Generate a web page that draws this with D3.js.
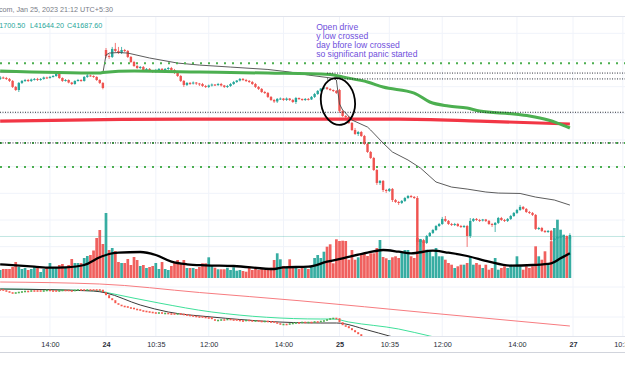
<!DOCTYPE html>
<html lang="en">
<head>
<meta charset="UTF-8">
<title>Bank Nifty 5m - Jan 23-25, 2023</title>
<script src="https://cdn.jsdelivr.net/npm/d3@7"></script>
<style>
  body { margin: 0; background: #fff; }
  svg { display: block; font-family: "Liberation Sans", Arial, sans-serif; }
</style>
</head>
<body>
<svg id="chart" width="625" height="375"></svg>
<script>
// 5 minute candles [open, high, low, close], candle index 41 = Jan 23 12:40
const day23 = [
  [42858,42880,42850,42869],[42869,42876,42858,42865],[42865,42873,42850,42858],[42858,42865,42835,42843],
  [42843,42850,42790,42798],[42798,42805,42768,42775],[42775,42835,42760,42828],[42828,42850,42820,42843],
  [42843,42858,42835,42850],[42850,42858,42835,42843],[42843,42861,42835,42854],[42854,42865,42846,42858],
  [42858,42866,42843,42850],[42850,42865,42844,42858],[42858,42876,42852,42869],[42869,42875,42858,42865],
  [42865,42880,42860,42873],[42873,42888,42868,42880],[42880,42910,42874,42895],[42895,42900,42858,42865],
  [42865,42870,42836,42843],[42843,42857,42838,42850],[42850,42855,42825,42831],[42831,42836,42812,42820],
  [42820,42848,42814,42843],[42843,42858,42838,42850],[42850,42856,42836,42843],[42843,42880,42838,42873],
  [42873,42903,42866,42884],[42884,42890,42874,42880],[42880,42885,42866,42873],[42873,42878,42843,42850],
  [42850,42856,42820,42828],[42828,42834,42780,42790]
];
const day24 = [
  [43075,43090,43015,43030],[43030,43045,43008,43023],[43023,43098,43015,43083],[43083,43128,43060,43068],
  [43068,43098,43045,43053],[43053,43098,43045,43075],[43075,43083,43060,43068],[43068,43075,43015,43023],
  [43023,43030,42978,42985],[42985,42993,42948,42955],[42955,42963,42933,42940],[42940,42955,42933,42948],
  [42948,42955,42918,42925],[42925,42940,42918,42933],[42933,42940,42910,42918],[42918,42925,42903,42910],
  [42910,42933,42903,42925],[42925,42940,42918,42933],[42933,42940,42910,42918],[42918,42940,42910,42933],
  [42933,42948,42925,42940],[42940,42948,42918,42925],[42925,42933,42895,42903],[42903,42910,42873,42880],
  [42880,42888,42835,42843],[42843,42850,42798,42813],[42813,42835,42805,42828],[42828,42835,42813,42824],
  [42824,42839,42816,42831],[42831,42835,42813,42824],[42824,42828,42805,42820],[42820,42828,42798,42805],
  [42805,42813,42790,42798],[42798,42816,42790,42809],[42809,42824,42801,42816],[42816,42820,42805,42813],
  [42813,42828,42805,42820],[42820,42828,42801,42809],[42809,42813,42790,42798],[42798,42813,42790,42805],
  [42805,42828,42798,42820],[42820,42843,42813,42835],[42835,42850,42828,42846],[42846,42865,42839,42858],
  [42858,42865,42843,42850],[42850,42858,42835,42843],[42843,42850,42828,42835],[42835,42843,42813,42820],
  [42820,42828,42790,42798],[42798,42805,42775,42783],[42783,42790,42753,42760],[42760,42768,42745,42753],
  [42753,42760,42715,42723],[42723,42730,42693,42700],[42700,42708,42678,42689],[42689,42715,42678,42708],
  [42708,42719,42700,42711],[42711,42715,42693,42700],[42700,42719,42693,42711],[42711,42715,42693,42700],
  [42700,42708,42678,42685],[42685,42723,42670,42715],[42715,42719,42700,42708],[42708,42711,42693,42700],
  [42700,42715,42693,42708],[42708,42715,42696,42704],[42704,42730,42700,42723],[42723,42753,42715,42745],
  [42745,42775,42738,42768],[42768,42790,42760,42786],[42786,42801,42779,42794],[42794,42798,42775,42783],
  [42783,42790,42768,42775],[42775,42779,42760,42768],[42768,42775,42745,42753]
];
const day25 = [
  [42775,42783,42603,42618],[42618,42625,42573,42580],[42580,42588,42565,42573],[42573,42580,42520,42528],
  [42528,42535,42468,42475],[42475,42490,42438,42445],[42445,42468,42430,42460],[42460,42468,42423,42430],
  [42430,42438,42363,42370],[42370,42378,42303,42310],[42310,42318,42258,42265],[42265,42273,42168,42175],
  [42175,42183,42063,42078],[42078,42100,42063,42093],[42093,42100,42010,42025],[42025,42033,42003,42018],
  [42018,42040,42010,42033],[42033,42040,41935,41950],[41950,41958,41928,41935],[41935,41943,41913,41928],
  [41928,41950,41920,41943],[41943,41973,41935,41965],[41965,41988,41958,41980],[41980,41988,41965,41973],
  [41973,41980,41958,41965],[41965,41980,41613,41635],[41635,41658,41598,41650],[41650,41658,41598,41628],
  [41628,41688,41620,41680],[41680,41710,41673,41703],[41703,41733,41695,41725],[41725,41763,41718,41755],
  [41755,41778,41748,41770],[41770,41823,41763,41808],[41808,41830,41785,41793],[41793,41800,41763,41770],
  [41770,41778,41755,41763],[41763,41778,41755,41770],[41770,41778,41748,41755],[41755,41763,41740,41748],
  [41748,41763,41740,41755],[41755,41763,41598,41680],[41680,41815,41665,41793],[41793,41815,41785,41808],
  [41808,41815,41793,41800],[41800,41808,41785,41796],[41796,41808,41789,41804],[41804,41808,41785,41793],
  [41793,41800,41763,41770],[41770,41778,41748,41763],[41763,41785,41710,41778],[41778,41823,41770,41815],
  [41815,41823,41793,41800],[41800,41808,41785,41793],[41793,41815,41785,41808],[41808,41838,41800,41830],
  [41830,41860,41823,41853],[41853,41883,41845,41875],[41875,41913,41868,41898],[41898,41905,41875,41883],
  [41883,41890,41853,41860],[41860,41868,41845,41853],[41853,41860,41830,41838],[41838,41845,41725,41733],
  [41733,41748,41725,41740],[41740,41748,41710,41718],[41718,41725,41703,41710],[41710,41725,41703,41718],
  [41718,41725,41635,41650],[41650,41669,41643,41661],[41661,41680,41654,41673],[41673,41684,41665,41676],
  [41676,41688,41669,41680],[41680,41684,41654,41660],[41660,41700.5,41644.2,41687.6]
];
const vol23 = [160,180,180,180,220,320,220,180,200,160,180,220,200,120,180,200,300,200,220,260,
  280,220,260,380,300,300,300,400,440,460,550,800,960,680];
const vol24 = [1300,560,600,540,320,300,300,380,260,420, 360,240,260,200,220,240,300,180,320,180,
  160,240,320,360,280,360,200,200,200,180, 220,294,294,414,260,206,174,174,174,206,
  160,214,146,160,140,126,226,160,206,160, 174,160,174,206,360,494,374,240,206,374,
  234,206,180,206,200,180,234,400,460,400, 526,626,674,294,774];
const vol25 = [740,746,740,366,560,366,414,460,494,440, 494,494,600,760,420,394,360,414,434,400,
  520,560,560,434,400,800,780,734,566,534, 434,600,434,434,366,300,266,200,234,266,
  266,300,434,266,300,266,200,266,166,200, 400,166,200,234,200,266,234,434,234,166,
  234,200,234,634,434,366,534,300,734,1000, 1166,966,866,800,820];

// indicator readings [candle index, value]
const vwapPts = [[41,42910],[74,42902],[75,43037],[76,43052],[79,43056],[82,43052],[89,43015],[98,42977],
  [105,42962],[115,42947],[127,42929],[134,42910],[140,42887],[148,42863],[149,42850],[150,42670],
  [151,42625],[152,42602],[154,42550],[159,42497],[160,42475],[164,42377],[167,42310],[172,42250],
  [176,42190],[181,42085],[186,42047],[191,42032],[197,42010],[201,42002],[208,41999],[213,41972],
  [219,41950],[224,41912]];
const emaGreenPts = [[41,42917],[73,42902],[74,42906],[84,42917],[105,42910],[127,42902],[147,42891],
  [151,42872],[159,42835],[164,42797],[174,42752],[179,42685],[185,42655],[191,42640],[195,42617],
  [206,42595],[211,42580],[217,42550],[220,42527],[224,42490]];
const emaRedPts = [[41,42542],[80,42554],[137,42557],[169,42557],[195,42542],[224,42520]];
const volMaPts = [[41,274],[52,226],[57,206],[62,214],[68,260],[73,414],[76,480],[79,506],[86,520],
  [91,460],[96,326],[101,274],[107,254],[116,240],[129,180],[132,214],[140,226],[146,326],[151,394],
  [159,506],[164,560],[169,526],[173,494],[180,546],[185,506],[191,440],[198,326],[205,246],[212,260],
  [218,294],[221,394],[224,494]];

// horizontal levels
const greenLevels = [42975, 42378, 42198];
const blackLevels = [42608, 42378];
const recentLevels = [42902, 42858];

// lower pane
const lowRed = [[41,540],[73,520],[105,435],[137,353],[179,230],[224,100]];
const lowGreen = [[41,470],[73,450],[76,430],[92,330],[109,240],[144,170],[148,170],[153,140],[169,70],[179,0],[185,-40]];
const lowBlack = [[41,470],[71,450],[75,430],[86,310],[95,240],[109,190],[144,130],[149,130],[159,60],[166,0],[171,-40]];
const mini23 = [460,450,440,430,425,430,435,440,445,445,450,450,450,445,450,455,450,450,445,450,
  455,455,450,450,455,460,460,455,460,460,460,460,455,430];
const mini24 = [400,370,350,320,305,295,290,280,275,265,260,250,245,240,235,230,225,230,220,225,
  220,220,215,220,215,210,205,200,195,190,190,185,180,180,160,145,155,160,160,165,
  160,160,155,150,150,155,150,145,150,145,140,145,140,140,130,120,110,115,110,120,
  125,130,130,135,130,135,135,140,140,145,150,160,170,175,170];
const mini25 = [130,100,90,70,50,30,10,-10];

// time axis
const tickIdx = [57,75,91,108,132,150,166,183,207,225,241];
const tickLabels = ["14:00","24","10:35","12:00","14:00","25","10:35","12:00","14:00","27","10:35"];
const dayLabels = ["24","25","27"];

const W = 625;
const UP = "#26a69a", DN = "#ef5350";
const svg = d3.select("#chart");

const x = d3.scaleLinear().domain([75, 225]).range([106, 573]);
const yP = d3.scaleLinear().domain([41500, 43150]).range([260, 40]);
const yV = d3.scaleLinear().domain([0, 1500]).range([278, 203]);
const yL = d3.scaleLinear().domain([0, 560]).range([336, 280]);

const defs = svg.append("defs");
defs.append("clipPath").attr("id", "clipMain").append("rect")
  .attr("x", 0).attr("y", 16).attr("width", W).attr("height", 264);
defs.append("clipPath").attr("id", "clipLow").append("rect")
  .attr("x", 0).attr("y", 280).attr("width", W).attr("height", 56);

// candles with volume
const candles = [];
[[day23, vol23, 41], [day24, vol24, 75], [day25, vol25, 150]].forEach(([rows, vols, s]) => {
  rows.forEach((r, k) => candles.push({ i: s + k, o: r[0], h: r[1], l: r[2], c: r[3], v: vols[k] }));
});
candles.forEach((d, k) => { d.pc = k ? candles[k - 1].c : d.o; });

const mini = [];
[[mini23, 41], [mini24, 75], [mini25, 150]].forEach(([vals, s]) => {
  vals.forEach((v, k) => mini.push({ i: s + k, c: v }));
});
mini.forEach((d, k) => { d.o = k ? mini[k - 1].c : d.c; });

// grid
const grid = svg.append("g");
grid.selectAll(".vg").data(tickIdx).join("line").attr("class", "vg")
  .attr("x1", d => x(d)).attr("x2", d => x(d)).attr("y1", 16).attr("y2", 336)
  .attr("stroke", "#f0f3fa");
grid.selectAll(".hg").data(d3.range(41600, 43201, 200)).join("line").attr("class", "hg")
  .attr("x1", 0).attr("x2", W).attr("y1", d => yP(d)).attr("y2", d => yP(d))
  .attr("stroke", "#f0f3fa");
grid.selectAll(".lg").data([190, 490]).join("line").attr("class", "lg")
  .attr("x1", 0).attr("x2", W).attr("y1", d => yL(d)).attr("y2", d => yL(d))
  .attr("stroke", "#f0f3fa");
grid.append("line").attr("x1", 0).attr("x2", W).attr("y1", 16.5).attr("y2", 16.5).attr("stroke", "#e0e3eb");

const main = svg.append("g").attr("clip-path", "url(#clipMain)");

// volume
main.append("g").selectAll("rect").data(candles).join("rect")
  .attr("x", d => x(d.i) - 1.35).attr("width", 2.7)
  .attr("y", d => yV(d.v)).attr("height", d => yV(0) - yV(d.v))
  .attr("fill", d => d.c >= d.pc ? UP : DN).attr("fill-opacity", 0.92);

// last price line
const last = candles[candles.length - 1];
main.append("line").attr("x1", 0).attr("x2", W)
  .attr("y1", yP(last.c) + 1.5).attr("y2", yP(last.c) + 1.5)
  .attr("stroke", UP).attr("stroke-opacity", 0.35).attr("stroke-width", 0.8);

// volume MA
main.append("path").datum(volMaPts)
  .attr("d", d3.line().x(d => x(d[0])).y(d => yV(d[1])).curve(d3.curveMonotoneX))
  .attr("fill", "none").attr("stroke", "#000").attr("stroke-width", 2.3);

// candles
const cg = main.append("g").selectAll("g").data(candles).join("g");
cg.append("line")
  .attr("x1", d => x(d.i)).attr("x2", d => x(d.i))
  .attr("y1", d => yP(d.h)).attr("y2", d => yP(d.l))
  .attr("stroke", d => d.c >= d.o ? UP : DN).attr("stroke-width", 0.8);
cg.append("rect")
  .attr("x", d => x(d.i) - 1.2).attr("width", 2.4)
  .attr("y", d => yP(Math.max(d.o, d.c)))
  .attr("height", d => Math.max(1, Math.abs(yP(d.o) - yP(d.c))))
  .attr("fill", d => d.c >= d.o ? UP : DN);

// moving averages and vwap
const priceLine = d3.line().x(d => x(d[0])).y(d => yP(d[1])).curve(d3.curveMonotoneX);
main.append("path").datum(emaRedPts).attr("d", priceLine)
  .attr("fill", "none").attr("stroke", "#f23645").attr("stroke-width", 3.2);
main.append("path").datum(vwapPts).attr("d", d3.line().x(d => x(d[0])).y(d => yP(d[1])))
  .attr("fill", "none").attr("stroke", "#4a4a4a").attr("stroke-width", 0.9);
main.append("path").datum(emaGreenPts).attr("d", priceLine)
  .attr("fill", "none").attr("stroke", "#4caf50").attr("stroke-width", 3);

// levels
main.selectAll(".gl").data(greenLevels).join("line").attr("class", "gl")
  .attr("x1", 0).attr("x2", W).attr("y1", d => yP(d)).attr("y2", d => yP(d))
  .attr("stroke", "#4caf50").attr("stroke-width", 2).attr("stroke-dasharray", "2 6");
main.selectAll(".bl").data(blackLevels).join("line").attr("class", "bl")
  .attr("x1", 0).attr("x2", W).attr("y1", d => yP(d)).attr("y2", d => yP(d))
  .attr("stroke", "#131722").attr("stroke-width", 0.9).attr("stroke-dasharray", "1 1.5");
main.selectAll(".rl").data(recentLevels).join("line").attr("class", "rl")
  .attr("x1", x(146)).attr("x2", W).attr("y1", d => yP(d)).attr("y2", d => yP(d))
  .attr("stroke", "#131722").attr("stroke-width", 0.9).attr("stroke-dasharray", "1 1.5");

// circle around the open
main.append("ellipse")
  .attr("transform", `translate(${x(149.5)},${yP(42689)}) rotate(-8)`)
  .attr("rx", 17).attr("ry", 23.5)
  .attr("fill", "none").attr("stroke", "#000").attr("stroke-width", 1.8);

// note
const note = ["Open drive", "y low crossed", "day bfore low crossed", "so significant panic started"];
svg.append("g").selectAll("text").data(note).join("text")
  .attr("x", x(142.5)).attr("y", (d, k) => yP(43222) + k * 8.9)
  .attr("font-size", 8.6).attr("fill", "#6f4fdc").text(d => d);

// lower pane
const low = svg.append("g").attr("clip-path", "url(#clipLow)");
const lowLine = d3.line().x(d => x(d[0])).y(d => yL(d[1])).curve(d3.curveMonotoneX);
low.append("path").datum(lowRed).attr("d", lowLine)
  .attr("fill", "none").attr("stroke", "#f77c80").attr("stroke-width", 1);
low.append("path").datum(lowGreen).attr("d", lowLine)
  .attr("fill", "none").attr("stroke", "#3fe09a").attr("stroke-width", 1);
low.append("path").datum(lowBlack).attr("d", lowLine)
  .attr("fill", "none").attr("stroke", "#3a3a3a").attr("stroke-width", 1);
low.append("g").selectAll("rect").data(mini).join("rect")
  .attr("x", d => x(d.i) - 1).attr("width", 2)
  .attr("y", d => yL(Math.max(d.o, d.c)) - 0.8)
  .attr("height", d => Math.max(1.6, Math.abs(yL(d.o) - yL(d.c))))
  .attr("fill", d => d.c > d.o ? "#4caf50" : "#f7594e");

// time axis
svg.append("line").attr("x1", 0).attr("x2", W).attr("y1", 336.5).attr("y2", 336.5).attr("stroke", "#e0e3eb");
svg.append("line").attr("x1", 0).attr("x2", W).attr("y1", 352.5).attr("y2", 352.5).attr("stroke", "#d1d4dc");
const axis = svg.append("g").attr("transform", "translate(0,341.5)")
  .call(d3.axisBottom(x).tickValues(tickIdx).tickFormat((d, k) => tickLabels[k]).tickSize(0).tickPadding(0));
axis.select(".domain").remove();
axis.selectAll("text")
  .attr("font-size", 7.3).attr("font-family", "Liberation Sans, Arial, sans-serif")
  .attr("fill", "#2a2e39")
  .attr("font-weight", (d, k) => dayLabels.includes(tickLabels[k]) ? "bold" : "normal");

// header
svg.append("text").attr("x", 113).attr("y", 11.8).attr("text-anchor", "end")
  .attr("font-size", 7.2).attr("fill", "#787b86")
  .text("Published on TradingView.com, Jan 25, 2023 21:12 UTC+5:30");
const legend = [
  { t: "H41700.50", x: 25.3, a: "end" },
  { t: "L41644.20", x: 30, a: "start" },
  { t: "C41687.60", x: 67, a: "start" }
];
svg.append("g").selectAll("text").data(legend).join("text")
  .attr("x", d => d.x).attr("y", 27.6).attr("text-anchor", d => d.a)
  .attr("font-size", 7.2).attr("fill", UP).text(d => d.t);
</script>
</body>
</html>
